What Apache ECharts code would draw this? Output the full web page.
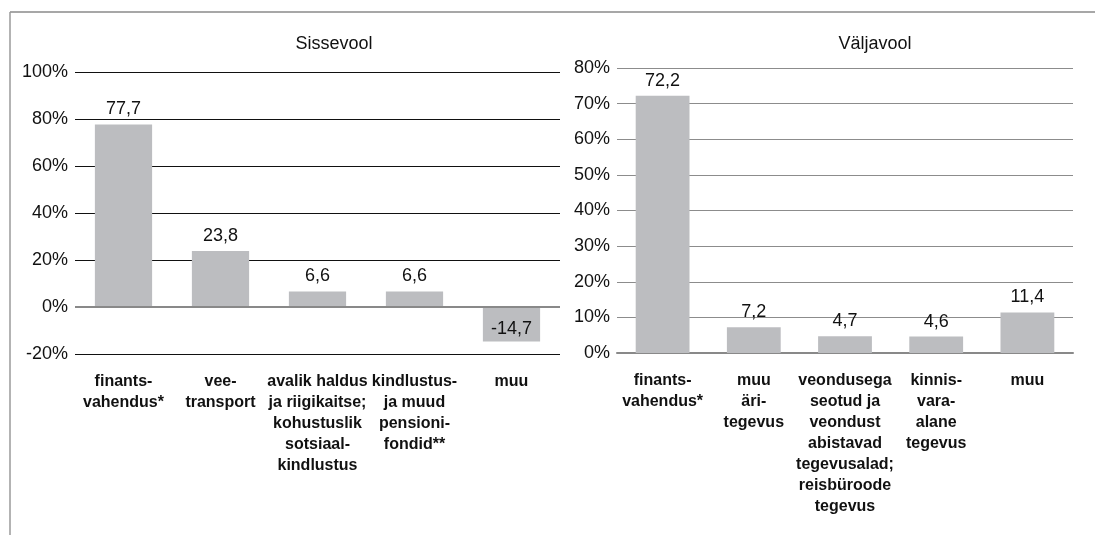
<!DOCTYPE html>
<html>
<head>
<meta charset="utf-8">
<script src="https://cdn.jsdelivr.net/npm/echarts/dist/echarts.min.js"></script>
<style>
  html, body { margin: 0; padding: 0; background: #fff; }
  #chart { width: 1095px; height: 535px; }
</style>
</head>
<body>
<div id="chart"></div>
<script>
// Sissevool (inflow)
const inflowCategories = [
  'finants-\nvahendus*',
  'vee-\ntransport',
  'avalik haldus\nja riigikaitse;\nkohustuslik\nsotsiaal-\nkindlustus',
  'kindlustus-\nja muud\npensioni-\nfondid**',
  'muu'
]
const inflowValues = [77.7, 23.8, 6.6, 6.6, -14.7]
const inflowTicks = [-20, 0, 20, 40, 60, 80, 100]

// Väljavool (outflow)
const outflowCategories = [
  'finants-\nvahendus*',
  'muu\näri-\ntegevus',
  'veondusega\nseotud ja\nveondust\nabistavad\ntegevusalad;\nreisbüroode\ntegevus',
  'kinnis-\nvara-\nalane\ntegevus',
  'muu'
]
const outflowValues = [72.2, 7.2, 4.7, 4.6, 11.4]
const outflowTicks = [0, 10, 20, 30, 40, 50, 60, 70, 80]

const font = "'Liberation Sans', Arial, Helvetica, sans-serif"
const barColor = '#bcbdc0'
const comma = p => String(p.value).replace('.', ',')

function barData (values) {
  // negative bars get their label at the far end, inside the bar
  return values.map(v => v < 0 ? { value: v, label: { position: 'insideBottom', distance: 4 } } : v)
}

function catAxis (gridIndex, cats, showLine) {
  return {
    type: 'category',
    gridIndex: gridIndex,
    data: cats,
    position: 'bottom',
    axisLine: { show: showLine, onZero: false, lineStyle: { color: '#898989', width: 2 } },
    axisTick: { show: false },
    axisLabel: {
      interval: 0,
      margin: 17,
      fontFamily: font,
      fontSize: 16,
      fontWeight: 'bold',
      lineHeight: 21,
      color: '#111',
      verticalAlign: 'top'
    }
  }
}

function valAxis (gridIndex, ticks, lineColor) {
  return {
    type: 'value',
    gridIndex: gridIndex,
    min: ticks[0],
    max: ticks[ticks.length - 1],
    interval: ticks[1] - ticks[0],
    axisLine: { show: false },
    axisTick: { show: false },
    axisLabel: {
      margin: 7,
      fontFamily: font,
      fontSize: 18,
      color: '#111',
      formatter: '{value}%'
    },
    splitLine: { lineStyle: { color: lineColor, width: 1 } }
  }
}

const chart = echarts.init(document.getElementById('chart'))
chart.setOption({
  animation: false,
  backgroundColor: '#fff',
  title: [
    { text: 'Sissevool', left: 329, top: 30, textAlign: 'center',
      textStyle: { fontFamily: font, fontSize: 18, fontWeight: 'normal', color: '#111' } },
    { text: 'Väljavool', left: 870, top: 30, textAlign: 'center',
      textStyle: { fontFamily: font, fontSize: 18, fontWeight: 'normal', color: '#111' } }
  ],
  grid: [
    { left: 75, right: 535, top: 72, height: 282 },
    { left: 617, right: 22, top: 68, height: 285 }
  ],
  xAxis: [
    catAxis(0, inflowCategories, false),
    catAxis(1, outflowCategories, true)
  ],
  yAxis: [
    valAxis(0, inflowTicks, '#111'),
    valAxis(1, outflowTicks, '#8c8c8c')
  ],
  graphic: [
    // frame round the figure (top and left only)
    { type: 'line', shape: { x1: 10, y1: 12, x2: 1095, y2: 12 }, style: { stroke: '#8a8a8a', lineWidth: 1.5 } },
    { type: 'line', shape: { x1: 10, y1: 12, x2: 10, y2: 535 }, style: { stroke: '#9a9a9a', lineWidth: 1.5 } }
  ],
  series: [
    {
      type: 'bar',
      xAxisIndex: 0,
      yAxisIndex: 0,
      data: barData(inflowValues),
      barWidth: '59%',
      itemStyle: { color: barColor },
      label: { show: true, position: 'top', distance: 6, fontFamily: font, fontSize: 18, color: '#111', formatter: comma },
      markLine: {
        silent: true,
        symbol: 'none',
        label: { show: false },
        lineStyle: { color: '#898989', width: 2, type: 'solid' },
        data: [{ yAxis: 0 }]
      }
    },
    {
      type: 'bar',
      xAxisIndex: 1,
      yAxisIndex: 1,
      data: barData(outflowValues),
      barWidth: '59%',
      itemStyle: { color: barColor },
      label: { show: true, position: 'top', distance: 6, fontFamily: font, fontSize: 18, color: '#111', formatter: comma }
    }
  ]
})
</script>
</body>
</html>
